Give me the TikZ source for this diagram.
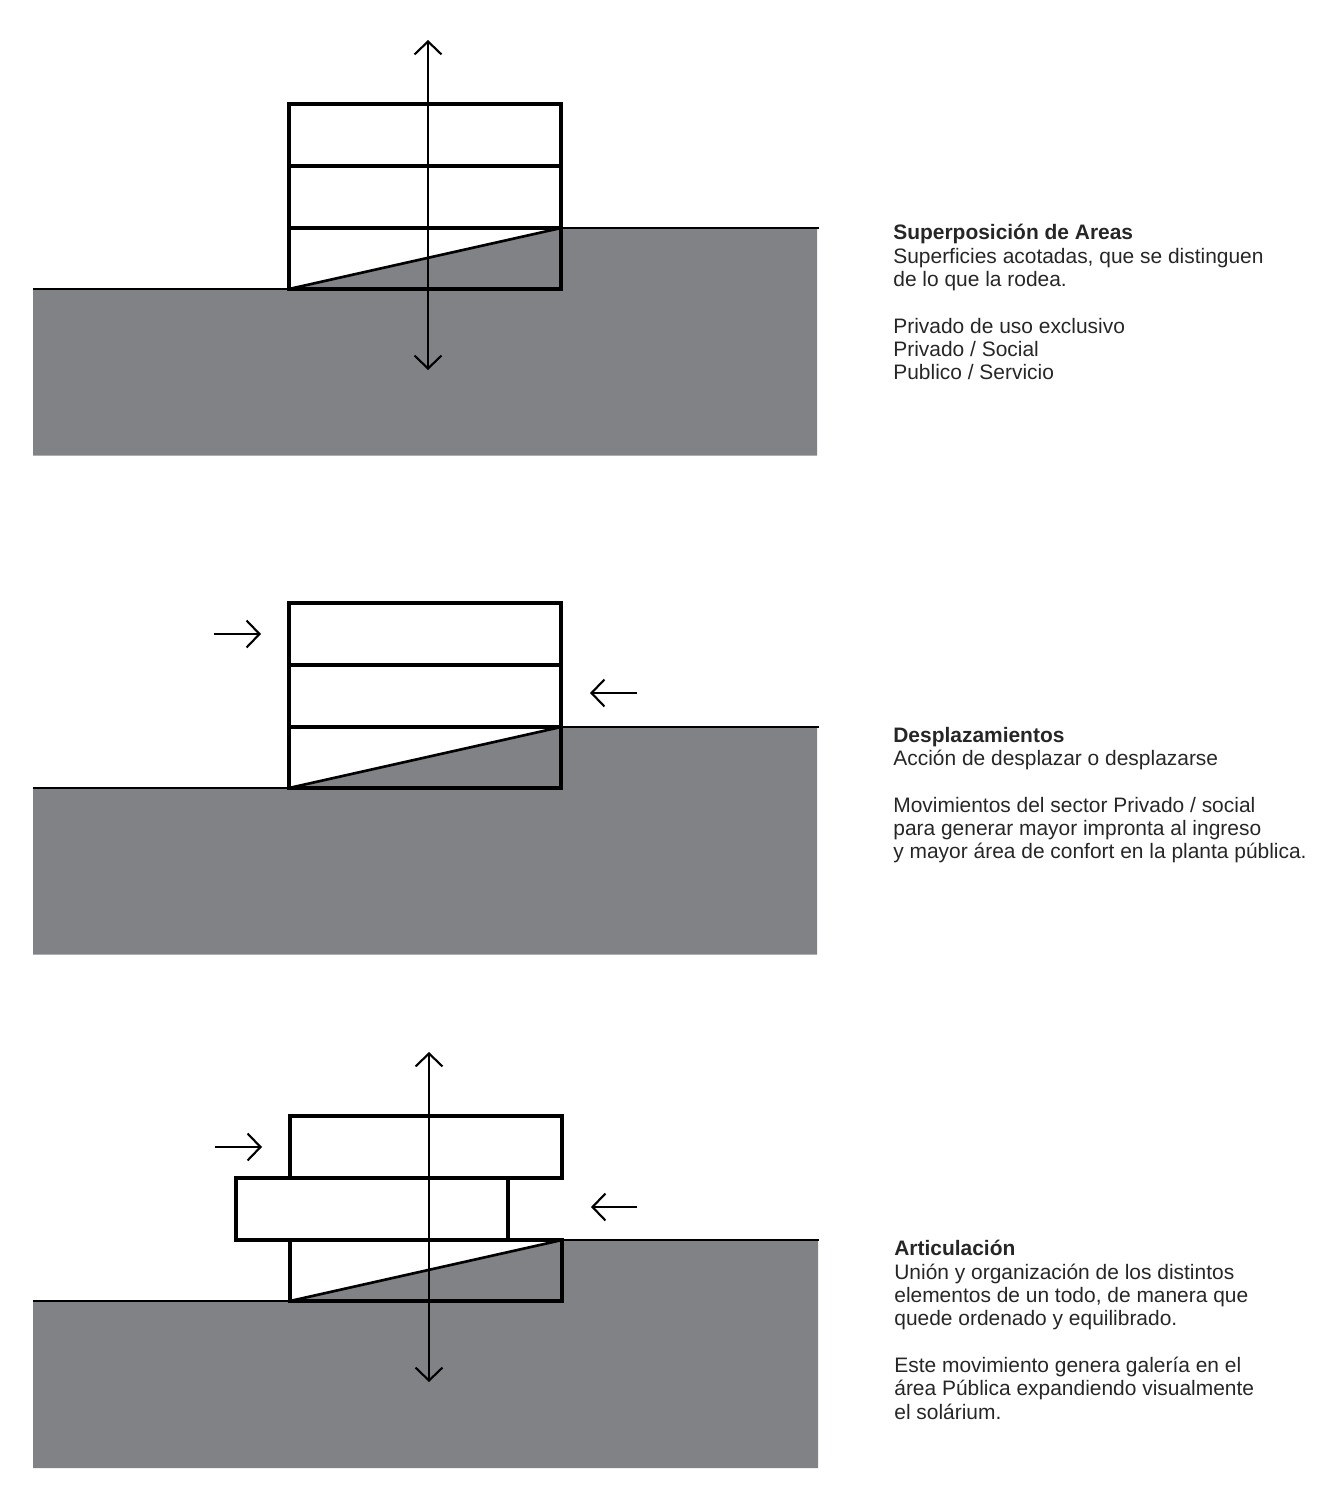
\documentclass[tikz,border=0pt]{standalone}
\usepackage{fontspec}
\setmainfont{Liberation Sans}
\usetikzlibrary{arrows.meta}
\definecolor{ground}{RGB}{128,130,133}
\tikzset{
    wall/.style={line width=2.5pt, line join=miter, line cap=rect, color=black},
    thinline/.style={line width=1.1pt, color=black},
    slope/.style={line width=1.5pt, color=black},
    axis/.style={line width=1.2pt, color=black, {Straight Barb[length=2.6mm,width=5.4mm]}-{Straight Barb[length=2.6mm,width=5.4mm]}},
    push/.style={line width=1.2pt, color=black, -{Straight Barb[length=2.6mm,width=5.4mm]}},
    caption/.style={anchor=north west, align=left, inner sep=0pt, color=black!85, font=\fontsize{11.92}{13.3}\selectfont},
}
\begin{document}
\begin{tikzpicture}[x=0.02cm, y=-0.02cm]
    \useasboundingbox (0,0) rectangle (1334,1500);

    % 1. Superposicion
    \fill[ground] (33,289) -- (289,289) -- (561,228) -- (817,228) -- (817,455.5) -- (33,455.5) -- cycle;
    \draw[thinline] (33,289) -- (289,289);
    \draw[thinline] (561,228) -- (819,228);
    \draw[slope] (289,289) -- (561,228);
    \draw[wall] (289,104) rectangle (561,289);
    \draw[wall] (289,166) -- (561,166);
    \draw[wall] (289,228) -- (561,228);
    \coordinate (axisA1) at (428,40);
    \coordinate (axisA2) at (428,370);
    \draw[axis] (axisA2) -- (axisA1);
    \node[caption] (textA) at (893,224) {\textbf{Superposición de Areas}\\
        Superficies acotadas, que se distinguen\\
        de lo que la rodea.\\[13.3pt]
        Privado de uso exclusivo\\
        Privado / Social\\
        Publico / Servicio};

    % 2. Desplazamientos
    \fill[ground] (33,788) -- (289,788) -- (561,727) -- (817,727) -- (817,954.5) -- (33,954.5) -- cycle;
    \draw[thinline] (33,788) -- (289,788);
    \draw[thinline] (561,727) -- (819,727);
    \draw[slope] (289,788) -- (561,727);
    \draw[wall] (289,603) rectangle (561,788);
    \draw[wall] (289,665) -- (561,665);
    \draw[wall] (289,727) -- (561,727);
    \coordinate (pushB1) at (214,634);
    \coordinate (pushB2) at (261,634);
    \coordinate (pushB3) at (637,693);
    \coordinate (pushB4) at (590,693);
    \draw[push] (pushB1) -- (pushB2);
    \draw[push] (pushB3) -- (pushB4);
    \node[caption] (textB) at (893,726.5) {\textbf{Desplazamientos}\\
        Acción de desplazar o desplazarse\\[13.3pt]
        Movimientos del sector Privado / social\\
        para generar mayor impronta al ingreso\\
        y mayor área de confort en la planta pública.};

    % 3. Articulacion
    \fill[ground] (33,1301) -- (290,1301) -- (562,1240) -- (818,1240) -- (818,1468) -- (33,1468) -- cycle;
    \draw[thinline] (33,1301) -- (290,1301);
    \draw[thinline] (562,1240) -- (819,1240);
    \draw[slope] (290,1301) -- (562,1240);
    \draw[wall] (290,1116) rectangle (562,1178);
    \draw[wall] (236,1178) rectangle (508,1240);
    \draw[wall] (290,1240) rectangle (562,1301);
    \coordinate (axisC1) at (429,1052);
    \coordinate (axisC2) at (429,1382);
    \draw[axis] (axisC2) -- (axisC1);
    \coordinate (pushC1) at (215,1147);
    \coordinate (pushC2) at (262,1147);
    \coordinate (pushC3) at (637,1207);
    \coordinate (pushC4) at (591,1207);
    \draw[push] (pushC1) -- (pushC2);
    \draw[push] (pushC3) -- (pushC4);
    \node[caption] (textC) at (894,1240) {\textbf{Articulación}\\
        Unión y organización de los distintos\\
        elementos de un todo, de manera que\\
        quede ordenado y equilibrado.\\[13.3pt]
        Este movimiento genera galería en el\\
        área Pública expandiendo visualmente\\
        el solárium.};
\end{tikzpicture}
\end{document}
